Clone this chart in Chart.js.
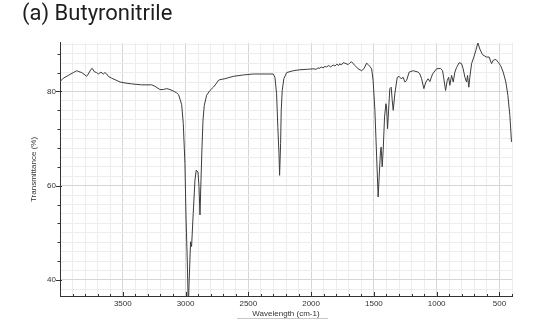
<!DOCTYPE html>
<html><head><meta charset="utf-8">
<script src="https://cdn.jsdelivr.net/npm/chart.js@4/dist/chart.umd.min.js"></script>
<style>html,body{margin:0;padding:0;background:#fff;overflow:hidden}</style>
</head><body>
<canvas id="c" width="539" height="320"></canvas>
<script>
const chartTitle = '(a) Butyronitrile';
const xAxisTitle = 'Wavelength (cm-1)';
const yAxisTitle = 'Transmittance (%)';
const xTickLabels = [3500, 3000, 2500, 2000, 1500, 1000, 500];
const yTickLabels = [40, 60, 80];

const wavenumbers = [
 4000,3974,3934,3894,3867,3849,3827,3801,3788,3775,3753,3743,3727,3708,3695,3674,3655,3642,3628,3615,
 3588,3562,3522,3482,3429,3350,3270,3244,3204,3178,3150,3124,3098,3071,3055,3031,3018,3005,2997,2986,
 2978,2971,2960,2952,2939,2925,2915,2901,2893,2885,2877,2869,2861,2851,2832,2806,2779,2752,2740,2726,
 2686,2620,2540,2461,2302,2288,2275,2265,2256,2251,2243,2238,2230,2217,2195,2142,2089,2030,1983,1960,
 1945,1930,1920,1905,1890,1877,1860,1845,1824,1810,1795,1780,1771,1760,1745,1731,1705,1690,1678,1651,
 1625,1598,1580,1558,1545,1532,1518,1506,1492,1478,1466,1458,1447,1442,1434,1426,1415,1404,1399,1391,
 1383,1373,1362,1354,1346,1333,1314,1299,1283,1267,1253,1240,1219,1187,1147,1134,1120,1102,1086,1068,
 1054,1033,1001,969,953,943,929,916,905,895,881,868,855,841,821,802,789,775,762,754,
 744,736,722,704,688,672,656,635,603,582,563,550,529,510,491,470,449,433,417,404
];
const transmittance = [
 82.1,82.8,83.4,84.0,84.4,84.2,84.0,83.5,83.2,83.7,84.7,84.9,84.2,84.0,83.7,84.1,83.7,84.0,83.7,83.2,
 82.8,82.5,82.0,81.8,81.6,81.4,81.4,81.1,80.4,80.4,80.6,80.4,80.1,79.7,79.3,77.2,73.2,64.7,54.2,43.6,
 34.0,40.0,48.1,47.1,54.1,61.2,63.3,62.9,59.8,53.8,61.2,68.2,73.9,77.0,79.2,80.2,80.9,81.8,82.3,82.5,
 82.7,83.2,83.5,83.7,83.7,83.0,79.5,72.4,66.8,62.2,68.9,76.0,80.2,82.7,84.0,84.4,84.6,84.7,84.8,84.7,
 85.0,84.9,85.2,85.0,85.3,85.2,85.5,85.2,85.6,85.4,85.8,85.5,85.9,85.6,86.1,86.0,85.7,86.1,86.3,85.5,
 84.8,84.4,84.8,86.0,85.7,85.3,84.8,82.3,76.0,66.1,57.6,61.9,67.5,68.2,64.0,67.5,74.6,77.4,76.7,72.1,
 76.0,80.6,80.9,78.1,76.0,79.5,83.0,83.2,82.7,83.0,82.0,82.3,84.1,84.4,84.1,83.7,82.7,80.6,82.0,82.7,
 82.1,83.7,84.8,84.9,84.4,82.7,80.2,82.3,83.0,81.3,83.4,82.0,84.1,85.1,86.1,85.9,84.8,83.0,82.0,83.4,
 80.9,83.0,85.9,87.3,88.7,90.3,89.0,87.8,87.3,87.3,85.9,86.6,86.8,86.2,85.5,84.1,82.0,79.2,74.9,69.3
];

const points = wavenumbers.map((w, i) => ({ x: w, y: transmittance[i] }));

const tickMarks = {
  id: 'tickMarks',
  afterDraw(chart) {
    const { ctx, chartArea: a, scales: { x, y } } = chart;
    ctx.save();
    ctx.strokeStyle = '#333';
    ctx.lineWidth = 1;
    ctx.beginPath();
    for (let v = 40; v <= 88; v += 4) {
      const py = Math.round(y.getPixelForValue(v)) + 0.5;
      const major = yTickLabels.includes(v);
      ctx.moveTo(a.left - (major ? 4 : 2.5), py);
      ctx.lineTo(a.left + (major ? 2 : 0), py);
    }
    for (let v = 400; v <= 4000; v += 100) {
      const px = Math.round(x.getPixelForValue(v)) + 0.5;
      const major = xTickLabels.includes(v);
      ctx.moveTo(px, a.bottom);
      ctx.lineTo(px, a.bottom - (major ? 4 : 2));
    }
    ctx.stroke();
    ctx.strokeStyle = '#c8c8c8';
    ctx.beginPath();
    ctx.moveTo(237, 318.5);
    ctx.lineTo(328, 318.5);
    ctx.stroke();
    ctx.restore();
  }
};

const xTicks = [];
for (let v = 400; v <= 4000; v += 100) xTicks.push({ value: v });
const yTicks = [];
for (let v = 38; v <= 90; v += 2) yTicks.push({ value: v });

new Chart(document.getElementById('c'), {
  type: 'line',
  data: {
    datasets: [{
      data: points,
      borderColor: '#3c3c3c',
      borderWidth: 1,
      pointRadius: 0,
      tension: 0,
      fill: false
    }]
  },
  options: {
    responsive: false,
    animation: false,
    layout: { padding: { left: 22, right: 27, top: 0, bottom: 0 } },
    plugins: {
      legend: { display: false },
      tooltip: { enabled: false },
      title: {
        display: true,
        text: chartTitle,
        align: 'start',
        color: '#1e1e1e',
        font: { family: 'Roboto', size: 22, weight: 'normal' },
        padding: { top: 1, bottom: 15.5 }
      }
    },
    scales: {
      x: {
        type: 'linear',
        reverse: true,
        min: 400,
        max: 4000,
        afterBuildTicks: s => { s.ticks = xTicks.map(t => ({ value: t.value })); },
        afterFit: s => { s.height = 24; },
        border: { display: true, color: '#333', width: 1 },
        grid: {
          drawTicks: false,
          color: c => (xTickLabels.includes(c.tick.value) ? '#d6d6d6' : '#ededed'),
          lineWidth: 1
        },
        ticks: {
          autoSkip: false,
          maxRotation: 0,
          minRotation: 0,
          padding: 3,
          color: '#333',
          font: { family: 'Liberation Sans', size: 8 },
          callback: v => (xTickLabels.includes(v) ? String(v) : '')
        },
        title: {
          display: true,
          text: xAxisTitle,
          color: '#333',
          font: { family: 'Liberation Sans', size: 8 },
          padding: { top: 0, bottom: 1 }
        }
      },
      y: {
        type: 'linear',
        min: 36.6,
        max: 90.3,
        afterBuildTicks: s => { s.ticks = yTicks.map(t => ({ value: t.value })); },
        afterFit: s => { s.width = 38; },
        border: { display: true, color: '#333', width: 1 },
        grid: {
          drawTicks: false,
          color: c => (yTickLabels.includes(c.tick.value) ? '#d6d6d6' : '#ededed'),
          lineWidth: 1
        },
        ticks: {
          autoSkip: false,
          padding: 4,
          color: '#333',
          font: { family: 'Liberation Sans', size: 8 },
          callback: v => (yTickLabels.includes(v) ? String(v) : '')
        },
        title: {
          display: true,
          text: yAxisTitle,
          color: '#333',
          font: { family: 'Liberation Sans', size: 8 },
          padding: { top: 7, bottom: 0 }
        }
      }
    }
  },
  plugins: [tickMarks]
});
</script>
</body></html>
